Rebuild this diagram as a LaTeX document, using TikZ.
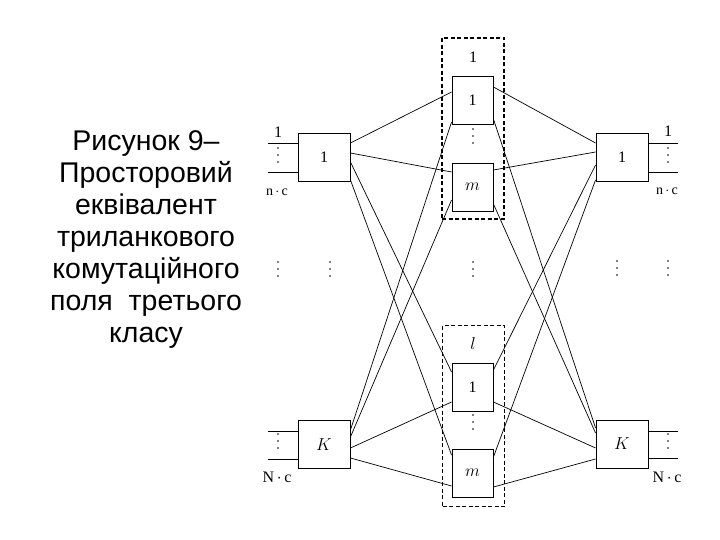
\documentclass[tikz,border=0pt]{standalone}
\usepackage{fontspec}
\setmainfont{Liberation Serif}
\setsansfont{Liberation Sans}
\usetikzlibrary{arrows}

\begin{document}
\begin{tikzpicture}[x=1pt,y=-1pt,line width=0.7pt,font=\fontsize{16}{18}\selectfont]
  \tikzstyle{switch}=[draw,line width=0.9pt,minimum width=52pt,minimum height=48pt,inner sep=0pt]
  \tikzstyle{mid}=[switch,minimum width=41pt,minimum height=48pt]
  \tikzstyle{group}=[draw,line width=1.1pt,dash pattern=on 4pt off 2.5pt,minimum width=62pt,minimum height=181pt]
  \tikzstyle{dots}=[minimum width=4pt,minimum height=20pt,inner sep=0pt,
    path picture={\fill (path picture bounding box.center) circle (0.95pt)
      ++(0,7pt) circle (0.95pt) ++(0,-14pt) circle (0.95pt);}]
  \tikzstyle{small}=[font=\fontsize{14}{16}\selectfont]
  \useasboundingbox (0,0) rectangle (720,540);

  % caption
  \node[align=center,font=\sffamily\fontsize{28.5}{32}\selectfont] (cap) at (146,240)
    {Рисунок 9–\\Просторовий\\еквівалент\\триланкового\\комутаційного\\поля\ \ третього\\класу};

  % groups of the middle stage
  \node[group] (TG) at (473,128.5) {};
  \node[group] (BG) at (473.5,416) {};
  \node (TGl) at (473,57) {1};
  \node (BGl) at (473,343) {$l$};

  % switches
  \node[switch] (L1) at (324,157)   {1};
  \node[switch] (LK) at (324,444.5) {$K$};
  \node[switch] (R1) at (622,157)   {1};
  \node[switch] (RK) at (622,444)   {$K$};
  \node[mid]    (T1) at (472.5,100) {1};
  \node[mid]    (Tm) at (472.5,187) {$m$};
  \node[mid]    (B1) at (472.5,387) {1};
  \node[mid]    (Bm) at (472.5,473) {$m$};

  % inputs and outputs
  \coordinate (L1a) at (268,143);
  \coordinate (L1b) at (268,172);
  \coordinate (LKa) at (268,431);
  \coordinate (LKb) at (268,459);
  \coordinate (R1a) at (678,143);
  \coordinate (R1b) at (678,172);
  \coordinate (RKa) at (678,431);
  \coordinate (RKb) at (678,458);
  \draw (L1a) -- (L1a -| L1.west)  (L1b) -- (L1b -| L1.west)
        (LKa) -- (LKa -| LK.west)  (LKb) -- (LKb -| LK.west)
        (R1a) -- (R1a -| R1.east)  (R1b) -- (R1b -| R1.east)
        (RKa) -- (RKa -| RK.east)  (RKb) -- (RKb -| RK.east);

  \node (L1n) at (278,132) {1};
  \node (R1n) at (668,131) {1};
  \node[small] (L1c) at (277,192) {n\,$\cdot$\,c};
  \node[small] (R1c) at (667,191) {n\,$\cdot$\,c};
  \node (LKc) at (277,477) {N\,$\cdot$\,c};
  \node (RKc) at (667,477) {N\,$\cdot$\,c};

  % dots
  \node[dots] (dL1) at (278,155) {};
  \node[dots] (dR1) at (668,155) {};
  \node[dots] (dLK) at (278,441) {};
  \node[dots] (dRK) at (668,441) {};
  \node[dots] (dT)  at (473,136) {};
  \node[dots] (dB)  at (473,422) {};
  \node[dots] (d1)  at (278,269) {};
  \node[dots] (d2)  at (330,269) {};
  \node[dots] (d3)  at (473,269) {};
  \node[dots] (d4)  at (617,268) {};
  \node[dots] (d5)  at (668,268) {};

  % links left stage -- middle stage
  \path ([yshift=14pt]L1.east)    edge ([yshift=8pt]T1.west)
        ([yshift=4pt]L1.east)     edge ([yshift=15pt]Tm.west)
        ([yshift=-5pt]L1.east)    edge ([yshift=15pt]B1.west)
        ([yshift=-23pt]L1.east)   edge ([yshift=18pt]Bm.west)
        ([yshift=14.5pt]LK.east)  edge ([yshift=-22pt]T1.west)
        ([yshift=7.5pt]LK.east)   edge ([yshift=-13pt]Tm.west)
        ([yshift=-3.5pt]LK.east)  edge ([yshift=-15pt]B1.west)
        ([yshift=-13.5pt]LK.east) edge ([yshift=-13pt]Bm.west);

  % links middle stage -- right stage
  \path ([yshift=13pt]T1.east)  edge ([yshift=14pt]R1.west)
        ([yshift=17pt]Tm.east)  edge ([yshift=5pt]R1.west)
        ([yshift=17pt]B1.east)  edge ([yshift=-8pt]R1.west)
        ([yshift=16pt]Bm.east)  edge ([yshift=-23pt]R1.west)
        ([yshift=-19pt]T1.east) edge ([yshift=16pt]RK.west)
        ([yshift=-17pt]Tm.east) edge ([yshift=11pt]RK.west)
        ([yshift=-15pt]B1.east) edge ([yshift=-4pt]RK.west)
        ([yshift=-14pt]Bm.east) edge ([yshift=-15pt]RK.west);
\end{tikzpicture}
\end{document}
